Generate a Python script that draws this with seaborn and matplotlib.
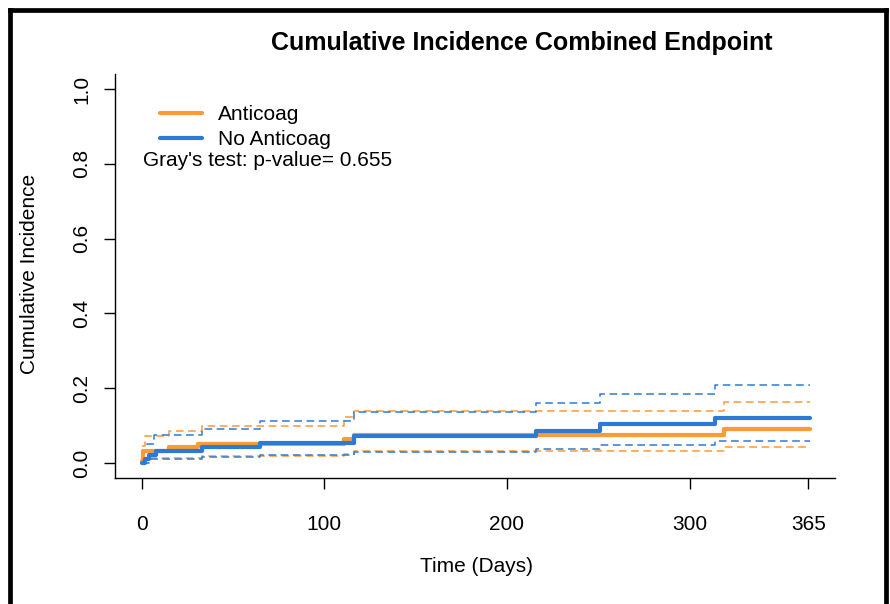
import matplotlib
matplotlib.use("Agg")
import matplotlib.pyplot as plt
from matplotlib.lines import Line2D
import pandas as pd
import seaborn as sns

# step points (days, cumulative incidence)
anti_days = [0, 1, 15, 31, 111, 116, 319, 366]
anti_est = [0.005, 0.032, 0.043, 0.050, 0.064, 0.076, 0.090, 0.090]
anti_up_days = [0, 2, 15, 33, 111, 116, 319, 366]
anti_up = [0.045, 0.072, 0.085, 0.100, 0.124, 0.140, 0.163, 0.163]
anti_lo_days = [0, 2, 33, 111, 116, 319, 366]
anti_lo = [0.0, 0.013, 0.020, 0.025, 0.033, 0.042, 0.042]

noac_days = [0, 2, 4, 8, 33, 65, 116, 216, 251, 314, 366]
noac_est = [0.0, 0.012, 0.022, 0.033, 0.042, 0.054, 0.072, 0.085, 0.104, 0.121, 0.121]
noac_up_days = [0, 3, 7, 33, 65, 116, 216, 251, 314, 366]
noac_up = [0.030, 0.050, 0.075, 0.090, 0.113, 0.137, 0.160, 0.184, 0.208, 0.208]
noac_lo_days = [0, 4, 33, 65, 116, 216, 251, 314, 366]
noac_lo = [0.0, 0.010, 0.016, 0.021, 0.030, 0.037, 0.048, 0.060, 0.060]

groups = ["Anticoag", "No Anticoag"]
colors = ["#FF9933", "#2B7BD6"]

x_ticks = [0, 100, 200, 300, 365]
y_ticks = [0.0, 0.2, 0.4, 0.6, 0.8, 1.0]


def frame(days, vals, group):
    return pd.DataFrame({"Day": days, "CI": vals, "Group": group})


est = pd.concat([frame(anti_days, anti_est, groups[0]),
                 frame(noac_days, noac_est, groups[1])])
bands = pd.concat([frame(anti_up_days, anti_up, groups[0]).assign(Bound="up"),
                   frame(anti_lo_days, anti_lo, groups[0]).assign(Bound="lo"),
                   frame(noac_up_days, noac_up, groups[1]).assign(Bound="up"),
                   frame(noac_lo_days, noac_lo, groups[1]).assign(Bound="lo")])

sns.set_style("ticks")
plt.rcParams["font.family"] = ["Liberation Sans", "DejaVu Sans"]
plt.rcParams["text.color"] = "black"

fig = plt.figure(figsize=(8.9, 6.04), dpi=100)
ax = fig.add_axes([115 / 890, 1 - 478 / 604, 720 / 890, 404 / 604])

palette = dict(zip(groups, colors))
for (g, b), sub in bands.groupby(["Group", "Bound"]):
    sns.lineplot(data=sub, x="Day", y="CI", color=palette[g], lw=1.1,
                 drawstyle="steps-post", ax=ax, legend=False, estimator=None,
                 linestyle=(0, (5, 3)))

sns.lineplot(data=est, x="Day", y="CI", hue="Group", palette=palette,
             hue_order=groups, lw=3, drawstyle="steps-post", ax=ax,
             estimator=None, legend=False)

ax.set_xlim(-14.6, 379.6)
ax.set_ylim(-0.04, 1.04)
ax.set_xticks(x_ticks)
ax.set_xticklabels([str(t) for t in x_ticks])
ax.set_yticks(y_ticks)
ax.set_yticklabels([f"{t:.1f}" for t in y_ticks], rotation=90, va="center")
ax.tick_params(axis="both", labelsize=15, length=8, width=1.0, color="black",
               labelcolor="black")
ax.tick_params(axis="x", pad=19)
ax.tick_params(axis="y", pad=9)
for side in ["top", "right"]:
    ax.spines[side].set_visible(False)
for side in ["left", "bottom"]:
    ax.spines[side].set_color("black")
    ax.spines[side].set_linewidth(1.0)

ax.set_xlabel("")
ax.set_ylabel("")
fig.text(476 / 890, 1 - 567 / 604, "Time (Days)", ha="center", va="center",
         fontsize=15)
fig.text(30 / 890, 1 - 274 / 604, "Cumulative Incidence", ha="center",
         va="center", rotation=90, fontsize=15)
fig.text(522 / 890, 1 - 43 / 604, "Cumulative Incidence Combined Endpoint",
         ha="center", va="center", fontsize=18, fontweight="bold")

handles = [Line2D([], [], color=c, lw=3) for c in colors]
ax.legend(handles, groups, loc="upper left", frameon=False, fontsize=15,
          bbox_to_anchor=(160 / 890, 1 - 105 / 604),
          bbox_transform=fig.transFigure, borderaxespad=0, borderpad=0,
          handlelength=2, handletextpad=0.8, labelspacing=0.29)
fig.text(143 / 890, 1 - 161 / 604, "Gray's test: p-value= 0.655",
         ha="left", va="center", fontsize=15)

# black frame around the figure (left, top, right)
bw = 3.4
fig.add_artist(Line2D([10.4 / 890] * 2, [0, 1 - 10.4 / 604], color="black",
                      lw=bw, transform=fig.transFigure, solid_capstyle="projecting"))
fig.add_artist(Line2D([10.4 / 890, 886 / 890], [1 - 10.4 / 604] * 2,
                      color="black", lw=bw, transform=fig.transFigure,
                      solid_capstyle="projecting"))
fig.add_artist(Line2D([886 / 890] * 2, [0, 1 - 10.4 / 604], color="black",
                      lw=bw, transform=fig.transFigure, solid_capstyle="projecting"))

fig.savefig("out.png", dpi=100)
